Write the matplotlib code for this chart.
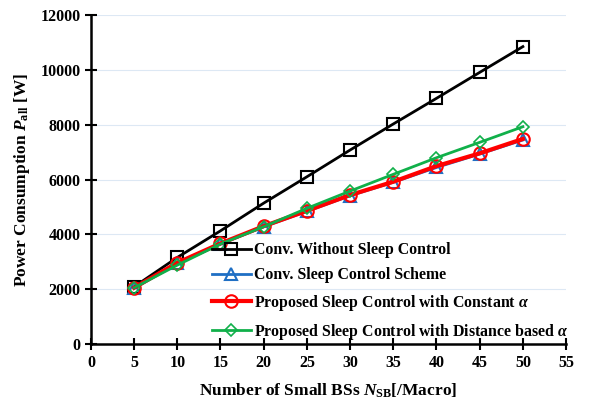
import matplotlib
matplotlib.use("Agg")
import matplotlib.pyplot as plt

plt.rcParams['font.family'] = ['Liberation Serif', 'DejaVu Serif']
plt.rcParams['font.weight'] = 'bold'
plt.rcParams['axes.labelweight'] = 'bold'
plt.rcParams['mathtext.fontset'] = 'custom'
plt.rcParams['mathtext.rm'] = 'Liberation Serif:bold'
plt.rcParams['mathtext.it'] = 'Liberation Serif:italic:bold'

n_sb = [5, 10, 15, 20, 25, 30, 35, 40, 45, 50]
no_sleep = [2090, 3160, 4130, 5140, 6100, 7075, 8025, 8960, 9905, 10845]
conv_sleep = [2040, 2940, 3650, 4280, 4840, 5410, 5900, 6440, 6930, 7440]
prop_const = [2055, 2965, 3670, 4300, 4860, 5435, 5920, 6490, 6955, 7480]
prop_dist = [2055, 2880, 3650, 4280, 4950, 5580, 6190, 6795, 7355, 7925]

labels = ["Conv. Without Sleep Control",
          "Conv. Sleep Control Scheme",
          r"Proposed Sleep Control with Constant $\alpha$",
          r"Proposed Sleep Control with Distance based $\alpha$"]

fig = plt.figure(figsize=(5.94, 4.03), dpi=100)
ax = fig.add_axes([0.153, 0.146, 0.800, 0.817])

ax.plot(n_sb, no_sleep, color="black", lw=2, marker="s", ms=9,
        mfc="none", mec="black", mew=1.5, label=labels[0])
ax.plot(n_sb, conv_sleep, color="#1f6fc4", lw=2, marker="^", ms=8,
        mfc="none", mec="#1f6fc4", mew=1.5, label=labels[1])
ax.plot(n_sb, prop_const, color="red", lw=3, marker="o", ms=9,
        mfc="none", mec="red", mew=1.5, label=labels[2])
ax.plot(n_sb, prop_dist, color="#10b04a", lw=2, marker="D", ms=6,
        mfc="none", mec="#10b04a", mew=1.2, label=labels[3])

ax.set_xlim(0, 55)
ax.set_ylim(0, 12000)
ax.set_xticks(range(0, 56, 5))
ax.set_yticks(range(0, 12001, 2000))
ax.yaxis.grid(True, color="#dde8f4", lw=0.8)
ax.set_axisbelow(True)

for s in ["top", "right"]:
    ax.spines[s].set_visible(False)
for s in ["left", "bottom"]:
    ax.spines[s].set_linewidth(1.8)
ax.tick_params(direction="inout", length=8, width=1.5, labelsize=11.5)

ax.set_xlabel(r"Number of Small BSs $N_{\rm SB}$[/Macro]", fontsize=12.5, labelpad=8)
ax.set_ylabel(r"Power Consumption $P_{\rm all}$ [W]", fontsize=12.5, labelpad=6)

ax.legend(loc="lower left", bbox_to_anchor=(0.224, -0.036), frameon=False,
          fontsize=11.4, handlelength=2.5, handletextpad=0.2, labelspacing=0.58)

fig.savefig("out.png", dpi=100)
